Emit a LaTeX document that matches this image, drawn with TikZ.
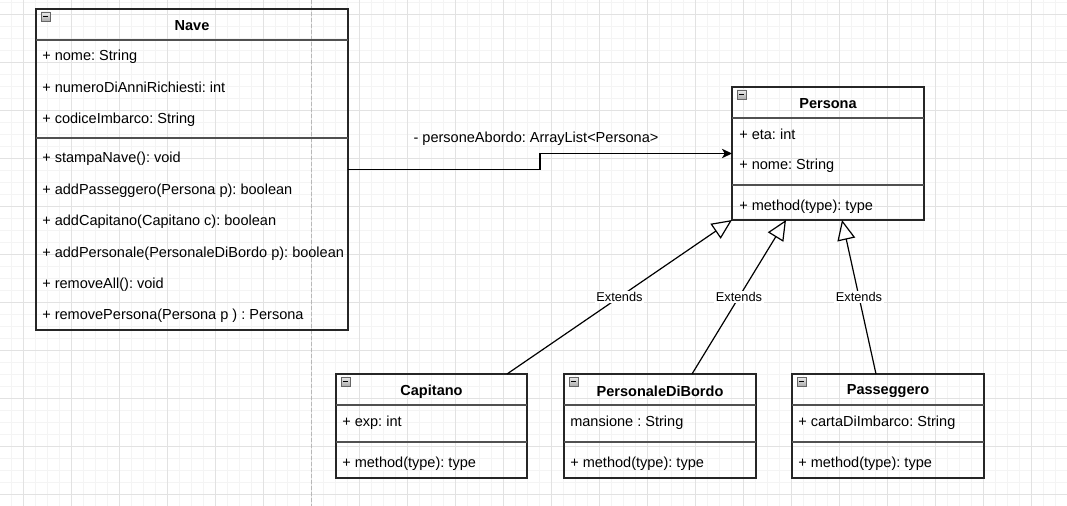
\documentclass[tikz,border=0pt]{standalone}
\usepackage{fontspec}
\setmainfont{Liberation Sans}
\usetikzlibrary{arrows.meta,calc}
\definecolor{gridmajor}{HTML}{E2E2E2}
\definecolor{gridminor}{HTML}{F4F4F4}
\definecolor{sepgray}{HTML}{505050}
\definecolor{pagebreak}{HTML}{B8B8B8}
\newcommand\umlicon[1]{%
  \draw[draw=gray!80!black, top color=gray!15, bottom color=gray!65, line width=0.5pt]
    ($(#1.north west)+(5,3)$) rectangle ($(#1.north west)+(14,12)$);
  \draw[line width=1pt, black] ($(#1.north west)+(7,7.5)$) -- ($(#1.north west)+(12,7.5)$);}
\frenchspacing
\begin{document}
\begin{tikzpicture}[x=0.75pt,y=-0.75pt,
  font=\fontsize{10.9}{13}\selectfont\frenchspacing,
  classbox/.style={draw=black!85, line width=1pt, inner sep=0pt, outer sep=0pt, anchor=north west},
  sepline/.style={draw=sepgray, line width=1.3pt},
  titletext/.style={font=\fontsize{10.9}{13}\selectfont\bfseries, inner sep=0pt, yshift=-1pt},
  rowtext/.style={anchor=west, inner sep=0pt, yshift=-1.2pt},
  assoc/.style={line width=0.9pt, -{Stealth[length=7.5pt, width=7pt, inset=2pt]}},
  ext/.style={line width=0.9pt, -{Triangle[open, length=15pt, width=13.5pt, line width=0.9pt]}},
  extlabel/.style={fill=white, inner sep=1.2pt, font=\fontsize{9.6}{11}\selectfont}]
\useasboundingbox (0,0) rectangle (1067,506);
% grid
\foreach \i in {0,...,88} {\draw[gridminor, line width=0.75pt] ({11+12*\i},0) -- ({11+12*\i},506);}
\foreach \j in {0,...,42} {\draw[gridminor, line width=0.75pt] (0,{2.3+12*\j}) -- (1067,{2.3+12*\j});}
\foreach \i in {0,...,21} {\draw[gridmajor, line width=0.75pt] ({23+48*\i},0) -- ({23+48*\i},506);}
\foreach \j in {0,...,10} {\draw[gridmajor, line width=0.75pt] (0,{14.3+48*\j}) -- (1067,{14.3+48*\j});}
% page break
\draw[pagebreak, line width=0.75pt, dash pattern=on 3pt off 1.5pt] (311.5,0) -- (311.5,506);

% Nave
\node[classbox, minimum width=312*0.75pt, minimum height=321*0.75pt] (nave) at (36,9) {};
\umlicon{nave}
\node[titletext] (naveT) at (192,24) {Nave};
\draw[sepline] (36,40) -- (348,40);
\draw[sepline] (36,138) -- (348,138);
\node[rowtext] (nave1) at (42,55) {+ nome: String};
\node[rowtext] (nave2) at (42,86) {+ numeroDiAnniRichiesti: int};
\node[rowtext] (nave3) at (42,118) {+ codiceImbarco: String};
\node[rowtext] (nave4) at (42,157) {+ stampaNave(): void};
\node[rowtext] (nave5) at (42,189) {+ addPasseggero(Persona p): boolean};
\node[rowtext] (nave6) at (42,220) {+ addCapitano(Capitano c): boolean};
\node[rowtext] (nave7) at (42,252) {+ addPersonale(PersonaleDiBordo p): boolean};
\node[rowtext] (nave8) at (42,283) {+ removeAll(): void};
\node[rowtext] (nave9) at (42,314) {+ removePersona(Persona p ) : Persona};

% Persona
\node[classbox, minimum width=192*0.75pt, minimum height=133*0.75pt] (persona) at (732,87) {};
\umlicon{persona}
\node[titletext] (personaT) at (828,102) {Persona};
\draw[sepline] (732,118) -- (924,118);
\draw[sepline] (732,185) -- (924,185);
\node[rowtext] (persona1) at (739,133) {+ eta: int};
\node[rowtext] (persona2) at (739,164) {+ nome: String};
\node[rowtext] (persona3) at (739,205) {+ method(type): type};

% Capitano
\node[classbox, minimum width=191*0.75pt, minimum height=104*0.75pt] (capitano) at (336,374) {};
\umlicon{capitano}
\node[titletext] (capitanoT) at (431.5,390) {Capitano};
\draw[sepline] (336,405) -- (527,405);
\draw[sepline] (336,442) -- (527,442);
\node[rowtext] (capitano1) at (342,421) {+ exp: int};
\node[rowtext] (capitano2) at (342,462) {+ method(type): type};

% PersonaleDiBordo
\node[classbox, minimum width=192*0.75pt, minimum height=104*0.75pt] (personale) at (564,374) {};
\umlicon{personale}
\node[titletext] (personaleT) at (660,390) {PersonaleDiBordo};
\draw[sepline] (564,405) -- (756,405);
\draw[sepline] (564,442) -- (756,442);
\node[rowtext] (personale1) at (570,421) {mansione : String};
\node[rowtext] (personale2) at (570,462) {+ method(type): type};

% Passeggero
\node[classbox, minimum width=192*0.75pt, minimum height=104*0.75pt] (passeggero) at (792,374) {};
\umlicon{passeggero}
\node[titletext] (passeggeroT) at (888,390) {Passeggero};
\draw[sepline] (792,405) -- (984,405);
\draw[sepline] (792,442) -- (984,442);
\node[rowtext] (passeggero1) at (798,421) {+ cartaDiImbarco: String};
\node[rowtext] (passeggero2) at (798,462) {+ method(type): type};

% association
\draw[assoc] (nave.east) -- ++(192,0) |- (persona.west);
\node[inner sep=0pt] (assocL) at (536,139) {- personeAbordo: ArrayList<Persona>};

% generalisations
\draw[ext] ($(capitano.north west)+(171,0)$) -- node[extlabel] (ext1) {Extends} (persona.south west);
\draw[ext] ($(personale.north west)+(128,0)$) -- node[extlabel] (ext2) {Extends} ($(persona.south west)+(54,0)$);
\draw[ext] ($(passeggero.north west)+(84,0)$) -- node[extlabel] (ext3) {Extends} ($(persona.south west)+(110,0)$);
\end{tikzpicture}
\end{document}
